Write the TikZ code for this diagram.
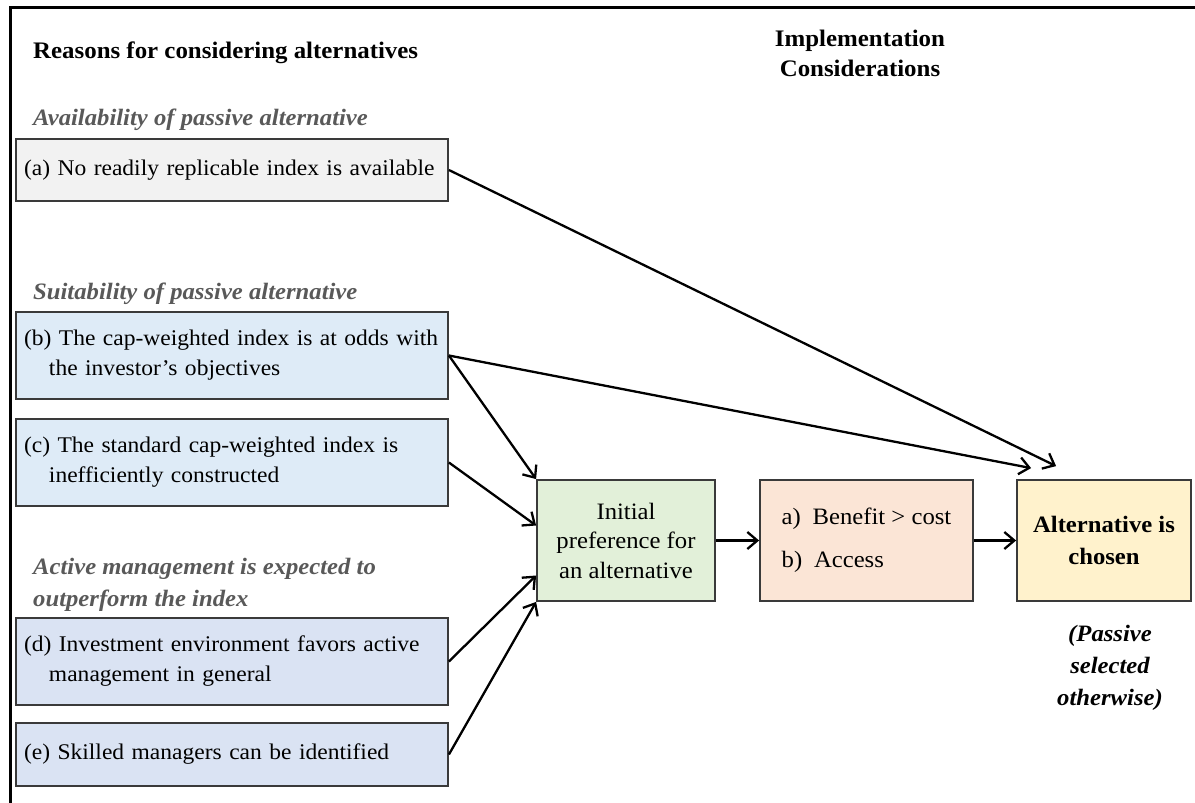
\documentclass[tikz,border=0pt]{standalone}
\usepackage{fontspec}
\setmainfont{Liberation Serif}[FakeStretch=1.05]
\usetikzlibrary{arrows.meta,calc}
\definecolor{bordc}{HTML}{3A3A3A}
\definecolor{subc}{HTML}{595959}
\definecolor{fillgray}{HTML}{F2F2F2}
\definecolor{fillblue}{HTML}{DEEBF7}
\definecolor{filllav}{HTML}{DAE3F3}
\definecolor{fillgreen}{HTML}{E2F0D9}
\definecolor{fillpeach}{HTML}{FBE5D6}
\definecolor{fillyellow}{HTML}{FFF2CC}
\tikzset{
  reasonbox/.style={draw=bordc, line width=1.8pt, minimum height=#1, text width=416pt,
    inner xsep=8pt, inner ysep=0pt, align=left,
    font=\fontsize{22.4}{30}\selectfont},
  flowbox/.style={draw=bordc, line width=1.8pt, minimum width=#1, minimum height=121pt,
    inner sep=0pt, font=\fontsize{23.5}{29.5}\selectfont},
  headtxt/.style={inner sep=0pt, font=\fontsize{23.7}{30}\selectfont\bfseries},
  subtxt/.style={inner sep=0pt, text=subc, align=left, font=\fontsize{23.5}{32}\selectfont\bfseries\itshape},
  arr/.style={line width=2.3pt, -{Straight Barb[length=10pt,width=17pt]}},
}
\begin{document}
\begin{tikzpicture}[x=1pt,y=-1pt]
\useasboundingbox (0,0) rectangle (1195,803);
% frame
\coordinate (frtr) at (1195,7);
\coordinate (frtl) at (10,7);
\coordinate (frbl) at (10,803);
\draw[line width=3pt, black] (frtr) -- (frtl) -- (frbl);
% headings
\node[headtxt, anchor=west] (headreasons) at (33,53) {Reasons for considering alternatives};
\node[headtxt, align=center] (headimpl) at (860,53) {Implementation\\Considerations};
% sub headings
\node[subtxt, anchor=west] (subavail) at (33,120) {Availability of passive alternative};
\node[subtxt, anchor=west] (subsuit) at (33,294) {Suitability of passive alternative};
\node[subtxt, anchor=west] (subactive) at (33,585) {Active management is expected to\\outperform the index};
% reason boxes
\node[reasonbox=62pt, fill=fillgray] (boxa) at (232,170) {\mbox{(a) No readily replicable index is available}};
\node[reasonbox=87pt, fill=fillblue] (boxb) at (232,355.5) {\mbox{(b) The cap-weighted index is at odds with}\\\hspace*{25pt}the investor’s objectives};
\node[reasonbox=87pt, fill=fillblue] (boxc) at (232,462.5) {\mbox{(c) The standard cap-weighted index is}\\\hspace*{25pt}inefficiently constructed};
\node[reasonbox=87pt, fill=filllav] (boxd) at (232,661.5) {\mbox{(d) Investment environment favors active}\\\hspace*{25pt}management in general};
\node[reasonbox=63pt, fill=filllav] (boxe) at (232,754.5) {\mbox{(e) Skilled managers can be identified}};
% flow boxes
\node[flowbox=178pt, fill=fillgreen, align=center] (init) at (626,540.5) {Initial\\preference for\\an alternative};
\node[flowbox=213pt, fill=fillpeach, align=left, text depth=6pt] (impl) at (866.5,540.5) {a)\enspace Benefit > cost\\[14pt]b)\enspace Access};
\node[flowbox=174pt, fill=fillyellow, align=center, font=\fontsize{23.5}{32}\selectfont\bfseries] (chosen) at (1104,540.5) {Alternative is\\chosen};
\node[inner sep=0pt, align=center, font=\fontsize{23.5}{32}\selectfont\bfseries\itshape] (passive) at (1110,668) {(Passive\\selected\\otherwise)};
% arrow end points above the chosen box
\coordinate (enda) at ($(chosen.north west)+(40,-13)$);
\coordinate (endb) at ($(chosen.north west)+(15,-11)$);
% connectors
\draw[arr] (boxa.east) -- (enda);
\draw[arr] (boxb.east) -- (endb);
\draw[arr] (boxb.east) -- (init.north west);
\draw[arr] (boxc.east) -- ($(init.west)+(0,-15)$);
\draw[arr] (boxd.east) -- ($(init.west)+(0,35)$);
\draw[arr] (boxe.east) -- (init.south west);
\draw[arr] (init.east) -- (impl.west);
\draw[arr] (impl.east) -- (chosen.west);
\end{tikzpicture}
\end{document}
